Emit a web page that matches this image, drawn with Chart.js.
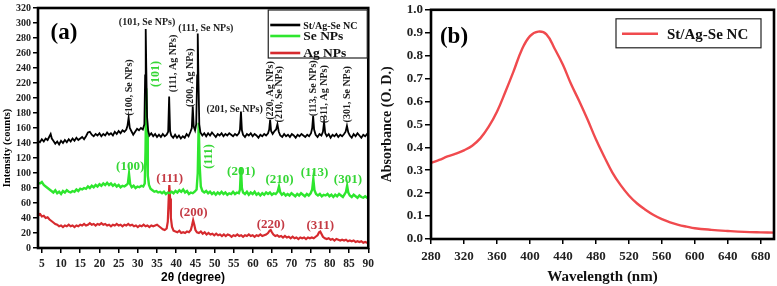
<!DOCTYPE html>
<html>
<head>
<meta charset="utf-8">
<script src="https://cdn.jsdelivr.net/npm/chart.js@4.4.1/dist/chart.umd.min.js"></script>
<style>
  html, body { margin: 0; padding: 0; background: #fff; }
  #wrap { position: relative; width: 777px; height: 286px; overflow: hidden; }
  #xrd { position: absolute; left: 0; top: 0; }
  #uv { position: absolute; left: 378px; top: 0; }
</style>
</head>
<body>
<div id="wrap">
  <canvas id="xrd" width="378" height="286" style="width:378px;height:286px"></canvas>
  <canvas id="uv" width="399" height="286" style="width:399px;height:286px"></canvas>
</div>
<script>
// ---- panel (a): XRD patterns, [2theta, counts] ----
const ncPattern = [
  [4.0,143],[4.5,141],[5.0,145],[5.5,142],[6.0,146],[6.5,144],[7.0,149],[7.3,152],[7.6,146],[8.0,143],
  [8.5,139],[9.0,142],[9.5,138],[10.0,143],[10.5,140],[11.0,144],[11.5,141],[12.0,145],[12.5,142],[13.0,146],
  [13.5,143],[14.0,147],[14.5,144],[15.0,146],[15.5,148],[16.0,145],[16.5,149],[17.0,154],[17.5,155],[18.0,151],
  [18.5,149],[19.0,152],[19.5,150],[20.0,153],[20.5,149],[21.0,152],[21.5,150],[22.0,154],[22.5,151],[23.0,153],
  [23.5,150],[24.0,155],[24.5,152],[25.0,156],[25.5,153],[26.0,157],[26.5,155],[27.0,158],[27.3,163],[27.6,174],
  [27.9,160],[28.3,156],[28.8,151],[29.3,155],[29.8,159],[30.3,157],[30.8,160],[31.3,158],[31.7,165],[31.9,230],
  [32.05,292],[32.2,240],[32.4,175],[32.7,156],[33.0,150],[33.5,153],[34.0,149],[34.5,152],[35.0,148],[35.5,151],
  [36.0,148],[36.5,152],[37.0,149],[37.5,151],[37.9,155],[38.15,202],[38.4,156],[38.7,150],[39.2,147],[39.7,151],
  [40.2,147],[40.7,150],[41.2,146],[41.7,149],[42.2,147],[42.7,152],[43.2,149],[43.7,155],[44.05,160],[44.3,189],
  [44.55,162],[44.9,157],[45.2,165],[45.45,230],[45.6,286],[45.8,220],[46.0,165],[46.3,154],[46.8,150],[47.3,153],
  [47.8,149],[48.3,153],[48.8,150],[49.3,154],[49.8,151],[50.3,148],[50.8,152],[51.3,150],[51.8,153],[52.3,149],
  [52.8,152],[53.3,150],[53.8,153],[54.3,151],[54.8,149],[55.3,152],[55.8,150],[56.3,153],[56.6,158],[56.85,182],
  [57.1,157],[57.4,151],[57.9,148],[58.4,152],[58.9,150],[59.4,153],[59.9,149],[60.4,152],[60.9,150],[61.4,147],
  [61.9,151],[62.4,149],[62.9,152],[63.4,150],[63.9,153],[64.2,158],[64.45,171],[64.7,156],[65.1,152],[65.6,156],
  [66.0,158],[66.35,165],[66.7,155],[67.1,150],[67.6,148],[68.1,152],[68.6,149],[69.1,151],[69.6,148],[70.1,152],
  [70.6,150],[71.1,147],[71.6,151],[72.1,149],[72.6,152],[73.1,150],[73.6,148],[74.1,151],[74.6,149],[75.1,153],
  [75.4,160],[75.65,176],[75.9,158],[76.3,151],[76.8,148],[77.3,152],[77.8,150],[78.2,155],[78.5,168],[78.8,153],
  [79.2,149],[79.7,152],[80.2,147],[80.7,151],[81.2,149],[81.7,152],[82.2,148],[82.7,151],[83.2,149],[83.7,152],
  [84.1,155],[84.45,163],[84.8,154],[85.2,150],[85.7,147],[86.2,152],[86.7,149],[87.2,153],[87.7,150],[88.2,147],
  [88.7,151],[89.2,149],[89.7,152],[90.0,150]
];
const sePattern = [
  [4.0,87],[4.5,86],[5.0,88],[5.5,84],[6.0,82],[6.5,80],[7.0,78],[7.5,76],[8.0,74],[8.5,77],
  [9.0,73],[9.5,75],[10.0,72],[10.5,76],[11.0,74],[11.5,77],[12.0,75],[12.5,74],[13.0,76],[13.5,75],
  [14.0,78],[14.5,76],[15.0,79],[15.5,78],[16.0,80],[16.5,79],[17.0,82],[17.5,80],[18.0,83],[18.5,81],
  [19.0,84],[19.5,82],[20.0,85],[20.5,83],[21.0,86],[21.5,84],[22.0,87],[22.5,84],[23.0,86],[23.5,83],
  [24.0,85],[24.5,82],[25.0,84],[25.5,81],[26.0,83],[26.5,82],[27.0,84],[27.4,86],[27.7,99],[28.0,85],
  [28.4,81],[28.9,83],[29.4,80],[29.9,82],[30.4,81],[30.9,83],[31.4,82],[31.8,86],[32.0,130],[32.2,213],
  [32.4,150],[32.6,96],[32.9,84],[33.3,79],[33.8,77],[34.3,75],[34.8,76],[35.3,74],[35.8,75],[36.3,73],
  [36.8,75],[37.3,72],[37.8,74],[38.3,73],[38.8,75],[39.3,73],[39.8,76],[40.3,74],[40.8,77],[41.3,75],
  [41.8,78],[42.3,74],[42.8,76],[43.3,72],[43.8,74],[44.3,73],[44.8,75],[45.3,78],[45.6,100],[45.85,167],
  [46.1,110],[46.4,82],[46.8,76],[47.3,74],[47.8,76],[48.3,73],[48.8,75],[49.3,72],[49.8,74],[50.3,71],
  [50.8,74],[51.3,72],[51.8,75],[52.3,72],[52.8,74],[53.3,71],[53.8,73],[54.3,72],[54.8,75],[55.3,72],
  [55.8,74],[56.3,73],[56.6,78],[56.85,108],[57.1,80],[57.4,74],[57.9,72],[58.4,75],[58.9,71],[59.4,74],
  [59.9,72],[60.4,75],[60.9,71],[61.4,73],[61.9,70],[62.4,73],[62.9,71],[63.4,74],[63.9,72],[64.4,74],
  [64.9,71],[65.4,73],[65.9,72],[66.4,75],[66.75,82],[67.1,74],[67.5,71],[68.0,73],[68.5,70],[69.0,72],
  [69.5,70],[70.0,73],[70.5,71],[71.0,69],[71.5,72],[72.0,70],[72.5,73],[73.0,71],[73.5,69],[74.0,72],
  [74.5,70],[75.0,73],[75.4,78],[75.7,92],[76.0,77],[76.4,72],[76.9,70],[77.4,72],[77.9,69],[78.4,71],
  [78.9,70],[79.4,72],[79.9,69],[80.4,71],[80.9,68],[81.4,71],[81.9,69],[82.4,72],[82.9,70],[83.4,68],
  [83.9,72],[84.2,75],[84.5,83],[84.8,74],[85.2,70],[85.7,68],[86.2,71],[86.7,69],[87.2,67],[87.7,70],
  [88.2,68],[88.7,67],[89.2,69],[89.7,67],[90.0,66]
];
const agPattern = [
  [4.0,47],[4.3,44],[4.6,45],[5.0,42],[5.5,43],[6.0,40],[6.5,41],[7.0,38],[7.5,36],[8.0,34],
  [8.5,32],[9.0,31],[9.5,29],[10.0,30],[10.5,28],[11.0,30],[11.5,29],[12.0,31],[12.5,29],[13.0,30],
  [13.5,28],[14.0,30],[14.5,29],[15.0,31],[15.5,30],[16.0,32],[16.5,30],[17.0,31],[17.5,33],[18.0,31],
  [18.5,32],[19.0,30],[19.5,32],[20.0,31],[20.5,33],[21.0,31],[21.5,32],[22.0,30],[22.5,31],[23.0,29],
  [23.5,31],[24.0,30],[24.5,32],[25.0,30],[25.5,31],[26.0,29],[26.5,31],[27.0,30],[27.5,32],[28.0,30],
  [28.5,31],[29.0,29],[29.5,30],[30.0,28],[30.5,30],[31.0,29],[31.5,31],[32.0,29],[32.5,30],[33.0,28],
  [33.5,30],[34.0,29],[34.5,30],[35.0,31],[35.5,29],[36.0,27],[36.5,25],[37.0,24],[37.5,26],[37.8,35],
  [38.0,62],[38.2,84],[38.4,66],[38.6,40],[38.9,28],[39.3,23],[39.8,22],[40.3,21],[40.8,23],[41.3,20],
  [41.8,21],[42.3,20],[42.8,22],[43.3,21],[43.8,24],[44.1,30],[44.4,37],[44.7,31],[45.0,24],[45.4,21],
  [45.9,20],[46.4,22],[46.9,19],[47.4,21],[47.9,18],[48.4,20],[48.9,18],[49.4,19],[49.9,17],[50.4,19],
  [50.9,17],[51.4,18],[51.9,16],[52.4,18],[52.9,16],[53.4,18],[53.9,17],[54.4,15],[54.9,17],[55.4,16],
  [55.9,18],[56.4,16],[56.9,17],[57.4,15],[57.9,17],[58.4,16],[58.9,18],[59.4,16],[59.9,17],[60.4,15],
  [60.9,17],[61.4,16],[61.9,18],[62.4,16],[62.9,17],[63.4,18],[63.9,20],[64.3,23],[64.6,24],[64.9,21],
  [65.3,18],[65.8,16],[66.3,17],[66.8,15],[67.3,16],[67.8,14],[68.3,16],[68.8,14],[69.3,15],[69.8,13],
  [70.3,15],[70.8,13],[71.3,14],[71.8,12],[72.3,14],[72.8,13],[73.3,14],[73.8,12],[74.3,14],[74.8,13],
  [75.3,14],[75.8,13],[76.3,15],[76.8,17],[77.2,21],[77.5,22],[77.8,19],[78.2,15],[78.7,13],[79.2,12],
  [79.7,13],[80.2,11],[80.7,12],[81.2,10],[81.7,12],[82.2,11],[82.7,10],[83.2,11],[83.7,10],[84.2,11],
  [84.7,9],[85.2,10],[85.7,9],[86.2,10],[86.7,8],[87.2,9],[87.7,8],[88.2,9],[88.7,7],[89.2,8],
  [89.7,7],[90.0,8]
];
const thetaTicks = [5,10,15,20,25,30,35,40,45,50,55,60,65,70,75,80,85,90];
const countTicks = [0,20,40,60,80,100,120,140,160,180,200,220,240,260,280,300,320];

// peak labels: text, 2theta, counts, vertical?, series
const peakNotes = [
  ['(101, Se NPs)', 32.4, 301, false, 'nc'],
  ['(111, Se NPs)', 47.7, 293, false, 'nc'],
  ['(201, Se NPs)', 55.2, 185, false, 'nc'],
  ['(100, Se NPs)', 27.7, 214, true, 'nc'],
  ['(111, Ag NPs)', 39.3, 246, true, 'nc'],
  ['(200, Ag NPs)', 43.7, 227, true, 'nc'],
  ['(220, Ag NPs)', 64.4, 210, true, 'nc'],
  ['(210, Se NPs)', 66.9, 205, true, 'nc'],
  ['(113, Se NPs)', 75.7, 213, true, 'nc'],
  ['(311, Ag NPs)', 78.5, 205, true, 'nc'],
  ['(301, Se NPs)', 84.5, 205, true, 'nc'],
  ['(101)', 34.7, 232, true, 'se'],
  ['(111)', 48.5, 122, true, 'se'],
  ['(100)', 28.0, 108, false, 'se'],
  ['(201)', 56.9, 102, false, 'se'],
  ['(210)', 66.9, 91, false, 'se'],
  ['(113)', 76.0, 100, false, 'se'],
  ['(301)', 84.7, 91, false, 'se'],
  ['(111)', 38.3, 93, false, 'ag'],
  ['(200)', 44.5, 47, false, 'ag'],
  ['(220)', 64.6, 31, false, 'ag'],
  ['(311)', 77.5, 29.5, false, 'ag']
];

// ---- panel (b): UV-vis absorbance ----
const uvWavelength = [280,290,300,310,320,330,340,350,360,370,380,390,400,410,420,430,440,450,460,470,480,490,500,510,520,530,540,550,560,570,580,590,600,620,640,660,680,696];
const uvAbsorbance = [0.332,0.345,0.36,0.372,0.387,0.407,0.44,0.49,0.555,0.64,0.73,0.825,0.885,0.905,0.893,0.83,0.76,0.675,0.60,0.52,0.435,0.36,0.29,0.235,0.19,0.155,0.128,0.105,0.087,0.073,0.062,0.054,0.047,0.04,0.035,0.031,0.029,0.028];
const wavelengthTicks = [280,320,360,400,440,480,520,560,600,640,680];
const absorbanceTicks = [0,0.1,0.2,0.3,0.4,0.5,0.6,0.7,0.8,0.9,1.0];

const SERIF = "'Liberation Serif', 'Times New Roman', serif";
const SANS = "'Liberation Sans', Arial, sans-serif";
const noteColors = { nc: '#1c1c1c', se: '#36d636', ag: '#c43a44' };

const framePlugin = {
  id: 'frame',
  afterDatasetsDraw(chart) {
    const { ctx, chartArea: a } = chart;
    ctx.save();
    ctx.lineWidth = 2.6;
    ctx.strokeStyle = '#000';
    ctx.strokeRect(a.left, a.top, a.right - a.left, a.bottom - a.top);
    ctx.restore();
  }
};

function boxLegend(opt) {
  return {
    id: 'boxLegend',
    afterDraw(chart) {
      const { ctx, chartArea: a } = chart;
      const left = a.right - opt.fromRight, top = a.top + opt.top;
      ctx.save();
      ctx.fillStyle = '#fff';
      ctx.fillRect(left, top, opt.w, opt.h);
      ctx.lineWidth = 1.2;
      ctx.strokeStyle = '#222';
      ctx.strokeRect(left, top, opt.w, opt.h);
      chart.data.datasets.forEach((ds, i) => {
        const y = top + opt.rows[i];
        ctx.beginPath();
        ctx.strokeStyle = ds.borderColor;
        ctx.lineWidth = 2.6;
        ctx.moveTo(left + opt.line[0], y);
        ctx.lineTo(left + opt.line[1], y);
        ctx.stroke();
        ctx.fillStyle = '#111';
        ctx.font = 'bold ' + opt.sizes[i] + 'px ' + SERIF;
        ctx.textAlign = 'left';
        ctx.textBaseline = 'middle';
        ctx.fillText(ds.label, left + opt.textX, y + 1);
      });
      ctx.restore();
    }
  };
}

const xrdText = {
  id: 'xrdText',
  afterDatasetsDraw(chart) {
    const { ctx, chartArea: a, scales: { x, y } } = chart;
    ctx.save();
    ctx.textAlign = 'center';
    ctx.textBaseline = 'middle';
    peakNotes.forEach(([text, t, c, vertical, key]) => {
      ctx.save();
      ctx.fillStyle = noteColors[key];
      const size = key === 'nc' ? 10 : (vertical ? 12 : 13);
      ctx.font = 'bold ' + size + 'px ' + SERIF;
      ctx.translate(x.getPixelForValue(t), y.getPixelForValue(c));
      if (vertical) ctx.rotate(-Math.PI / 2);
      ctx.fillText(text, 0, 0);
      ctx.restore();
    });
    ctx.fillStyle = '#000';
    ctx.font = 'bold 23px ' + SERIF;
    ctx.fillText('(a)', a.left + 26, a.top + 25);
    // axis titles
    ctx.font = 'bold 12px ' + SANS;
    ctx.fillText('2θ (degree)', 193, 278);
    ctx.save();
    ctx.translate(7, 148);
    ctx.rotate(-Math.PI / 2);
    ctx.font = 'bold 10.5px ' + SERIF;
    ctx.fillText('Intensity (counts)', 0, 0);
    ctx.restore();
    ctx.restore();
  }
};

const uvText = {
  id: 'uvText',
  afterDatasetsDraw(chart) {
    const { ctx, chartArea: a } = chart;
    ctx.save();
    ctx.fillStyle = '#000';
    ctx.font = 'bold 23px ' + SERIF;
    ctx.textAlign = 'center';
    ctx.textBaseline = 'middle';
    ctx.fillText('(b)', a.left + 23, a.top + 27);
    ctx.restore();
  }
};

function toPoints(pairs) {
  return pairs.map(p => ({ x: p[0], y: p[1] }));
}

function tickList(values) {
  return scale => { scale.ticks = values.map(v => ({ value: v })); };
}

const tickGrid = len => ({
  display: true, drawOnChartArea: false, drawTicks: true,
  tickLength: len, color: '#000', lineWidth: 1.5
});

Chart.defaults.font.family = SERIF;
Chart.defaults.color = '#111';

new Chart(document.getElementById('xrd'), {
  type: 'line',
  data: {
    datasets: [
      { label: 'St/Ag-Se NC', data: toPoints(ncPattern), borderColor: '#000', borderWidth: 1.8 },
      { label: 'Se NPs', data: toPoints(sePattern), borderColor: '#2ee62e', borderWidth: 2.4 },
      { label: 'Ag NPs', data: toPoints(agPattern), borderColor: '#d62a2e', borderWidth: 2.2 }
    ]
  },
  options: {
    responsive: false,
    animation: false,
    devicePixelRatio: 1,
    elements: { point: { radius: 0 }, line: { tension: 0 } },
    layout: { padding: { top: 8, right: 5, left: 0, bottom: 0 } },
    plugins: { legend: { display: false }, tooltip: { enabled: false } },
    scales: {
      x: {
        type: 'linear', min: 4, max: 90,
        afterBuildTicks: tickList(thetaTicks),
        afterFit: s => { s.height = 38; },
        grid: tickGrid(5),
        border: { display: false },
        ticks: { padding: 4, maxRotation: 0, autoSkip: false, font: { size: 11.5, weight: 'bold' }, color: '#222' }
      },
      y: {
        type: 'linear', min: 0, max: 320,
        afterBuildTicks: tickList(countTicks),
        afterFit: s => { s.width = 38; },
        grid: tickGrid(5),
        border: { display: false },
        ticks: { padding: 2, autoSkip: false, font: { size: 10, weight: 'bold' }, color: '#222' }
      }
    }
  },
  plugins: [framePlugin, xrdText, boxLegend({ fromRight: 100, top: 2, w: 99, h: 48, rows: [15, 26, 43], line: [2, 32], textX: 35, sizes: [10, 13.5, 13.5] })]
});

new Chart(document.getElementById('uv'), {
  type: 'line',
  data: {
    datasets: [
      { label: 'St/Ag-Se NC', data: uvWavelength.map((w, i) => ({ x: w, y: uvAbsorbance[i] })), borderColor: '#f04a4e', borderWidth: 2.4, tension: 0.4 }
    ]
  },
  options: {
    responsive: false,
    animation: false,
    devicePixelRatio: 1,
    elements: { point: { radius: 0 } },
    layout: { padding: { top: 6, right: 3, left: 0, bottom: 0 } },
    plugins: { legend: { display: false }, tooltip: { enabled: false } },
    scales: {
      x: {
        type: 'linear', min: 280, max: 696,
        afterBuildTicks: tickList(wavelengthTicks),
        afterFit: s => { s.height = 47; },
        grid: tickGrid(5),
        border: { display: false },
        title: { display: true, text: 'Wavelength (nm)', font: { size: 15, weight: 'bold' }, color: '#111', padding: { top: 0, bottom: 0 } },
        ticks: { padding: 5, maxRotation: 0, autoSkip: false, font: { size: 13, weight: 'bold' }, color: '#222' }
      },
      y: {
        type: 'linear', min: 0, max: 1.0,
        afterBuildTicks: tickList(absorbanceTicks),
        afterFit: s => { s.width = 53; },
        grid: tickGrid(6),
        border: { display: false },
        title: { display: true, text: 'Absorbance (O. D.)', font: { size: 14, weight: 'bold' }, color: '#111', padding: { top: 1, bottom: 0 } },
        ticks: { padding: 2, autoSkip: false, font: { size: 13, weight: 'bold' }, color: '#222', callback: v => v.toFixed(1) }
      }
    }
  },
  plugins: [framePlugin, uvText, boxLegend({ fromRight: 158, top: 9, w: 145, h: 29, rows: [15], line: [6, 42], textX: 51, sizes: [15] })]
});
</script>
</body>
</html>
